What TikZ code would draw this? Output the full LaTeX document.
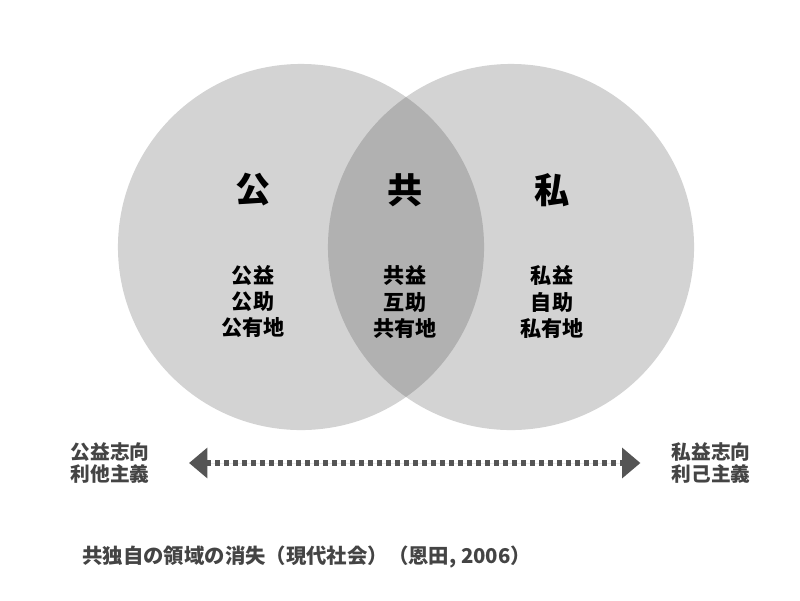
\documentclass[tikz,border=0pt]{standalone}
\usepackage{fontspec}
\setmainfont{Noto Sans CJK JP}
\usepackage{tikz}
\usetikzlibrary{positioning,arrows.meta}
\definecolor{venngray}{RGB}{40,40,40}
\definecolor{labelgray}{RGB}{68,68,68}
\definecolor{arrowgray}{RGB}{85,85,85}
\tikzset{
  venn/.style={circle, inner sep=0pt, minimum size=9.15cm, fill=venngray, fill opacity=0.205},
  head/.style={font=\bfseries\fontsize{25}{30}\selectfont, text=black},
  items/.style={align=center, font=\bfseries\fontsize{15}{18.5}\selectfont, text=black},
  side/.style={align=center, inner sep=0pt, font=\bfseries\fontsize{14}{15.6}\selectfont, text=labelgray},
  dotarr/.style={{Triangle[length=13pt, width=21pt]}-{Triangle[length=13pt, width=21pt]}, line width=3.6pt, dash pattern=on 3.6pt off 2.8pt, draw=arrowgray, fill=arrowgray},
}

\begin{document}
\begin{tikzpicture}[x=0.025cm, y=-0.025cm]
    \useasboundingbox (0,0) rectangle (800,600);
    % two sets
    \node[venn] (pubset) at (301,247) {};
    \node[venn] (privset) at (511,247) {};
    % headings
    \node[head] (pubhead) at (253,190) {公};
    \node[head] (comhead) at (405,190) {共};
    \node[head] (privhead) at (552,190) {私};
    % contents
    \node[items] (pubitems) at (253,302) {公益\\公助\\公有地};
    \node[items] (comitems) at (405,302) {共益\\互助\\共有地};
    \node[items] (privitems) at (552,302) {私益\\自助\\私有地};
    % orientation axis
    \node[side] (lefttxt) at (110,463) {公益志向\\利他主義};
    \node[side] (righttxt) at (711,463) {私益志向\\利己主義};
    \draw[dotarr, shorten <=28pt, shorten >=22pt] (lefttxt.east) -- (righttxt.west);
    \node[anchor=west, inner sep=0pt, font=\bfseries\fontsize{14.5}{16}\selectfont, text=labelgray] (caption) at (82,557) {共独自の領域の消失（現代社会）（恩田, 2006）};
\end{tikzpicture}
\end{document}
